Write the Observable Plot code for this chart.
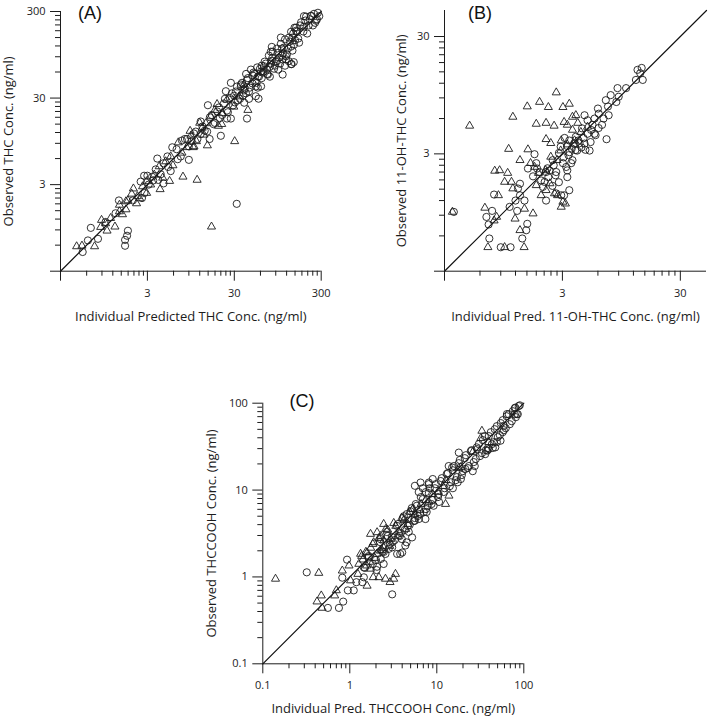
<!DOCTYPE html>
<html>
<head>
<meta charset="utf-8">
<script src="https://cdn.jsdelivr.net/npm/d3@7"></script>
<script src="https://cdn.jsdelivr.net/npm/@observablehq/plot@0.6"></script>
<style>
  html, body { margin: 0; padding: 0; background: #fff; }
  #wrap { position: relative; width: 709px; height: 719px; background: #fff; overflow: hidden; }
  .panel { position: absolute; }
  .panel svg { display: block; }
</style>
</head>
<body>
<div id="wrap">
  <div class="panel" id="pA" style="left:0px; top:0px;"></div>
  <div class="panel" id="pB" style="left:354px; top:0px;"></div>
  <div class="panel" id="pC" style="left:100px; top:360px;"></div>
</div>
<script>
// ---------------- Panel A: THC (x = individual predicted, y = observed, ng/ml) ----------------
const thcCircles = [
  [0.54,0.50],[0.62,0.68],[0.67,0.95],[0.81,0.71],[0.99,1.11],[1.29,1.40],[1.41,1.97],[1.66,0.69],
  [1.66,0.59],[1.79,0.88],[1.75,0.77],[2.04,1.97],[2.6,2.1],[2.75,3.8],[3.1,3.0],[3.4,3.7],[3.9,6.0],
  [4.6,3.1],[4.0,3.4],[5.8,8.1],[5.56,4.3],[9.0,5.8],[8.6,10.1],[12.3,11.5],[14.9,24.8],[15.6,10.1],
  [21,11],[27.4,17.4],[32,1.8],[24,36],[27.4,45],[42,17.4],[39,26.5],[35.7,43],[53,31.5],[57,29.5],
  [61,41],[72,57],[66,70],[108,56],[135,74],[145,78],[103,150],[135,175],[148,195],[190,265],[229,265],
  [262,235],[285,265],[176,225],[154,180],[118,91],[127,80],[137,74],[93,80],[108,84],[81,117],[79,103],
  [61,61],[54,45],[46.6,64],[41,57],
  [2.51,3.25],[2.78,2.4],[3.0,3.8],[3.5,3.35],[3.74,4.5],[4.27,3.95],[4.6,5.3],[5.2,4.8],[6.5,7.7],
  [7.26,6.35],[8.1,10.1],[9.0,8.3],[10.3,11.7],[11.3,10.1],[12.3,16.1],[13.7,12.6],[15.7,18],[17.3,15],
  [19.1,21],[20.4,17.6],[22.8,26],[24.7,21.5],[26.7,30],[29,24.7],[31.3,35.7],[33,28.2],[35.7,41],
  [37.7,32],[39.6,38.8],[43,51],[44.3,35.7],[48.5,44.3],[51,57],[53,40.8],[56,53],[59,65],[62,51],
  [65.5,60.7],[69,75],[73,56],[77,69],[82,87],[86,65.5],[90,79],[96,100],[101,75],[106,93],[112,115],
  [118,84],[124,112],[131,135],[140,106],[150,140],[158,176],[167,131],[190,201],[207,167],[222,244],
  [241,207],[268,244],[201,262],[248,282],
  [12.9,14.1],[14.6,12.3],[16.5,19.1],[17.9,15.5],[20,23.4],[21.8,19.1],[23.4,29.4],[25.3,20.6],
  [28.1,34],[30.5,26.7],[32.2,40.8],[34.9,29.4],[36.8,45],[40.8,34],[41.8,48.5],[45.4,39.6],[49.8,59],
  [52,46.6],[55,67.8],[57.8,53.2],[63.8,59],[67,79],[71,64],[75,93],[79,75],[83,103],[88,71],[93,112],
  [98,88],[103,127],[109,98],[115,143],[121,96],[128,150],[135,118],[143,167],[146,124],[154,195],
  [163,146],[171,207],[187,176],[197,236],[215,207],[229,268],[255,222],[275,290],[29.8,32],[38.8,36.8],
  [48.5,55],[62,71],[81,81],[106,112],[140,150],[24.7,17.4],[44.3,29.4],[56,39.6],[77,53],[96,64],
  [115,71],[7.5,9.7],[9.7,9.5],[10.8,12.3],[6.7,5.9],[5.1,6.35]
];
const thcTriangles = [
  [0.46,0.58],[0.53,0.59],[0.74,0.58],[0.89,1.17],[0.87,0.97],[1.03,0.88],[1.27,0.98],[1.43,1.75],
  [1.70,1.55],[1.79,1.97],[2.25,1.82],[2.07,2.7],[2.3,2.2],[2.94,2.4],[4.2,2.65],[5.4,3.3],[7.7,3.7],
  [11.2,3.4],[9.3,12.5],[10.1,8.1],[12.8,13.6],[14.7,8.5],[16.4,0.98],[19.7,14.3],[19,25.5],[30.3,9.5],
  [29.6,23.8],[43,21.8],
  [1.13,1.23],[1.55,1.36],[1.98,2.35],[2.45,2.08],[2.64,2.86],[3.27,3.0],[3.6,3.9],[4.5,3.6],[4.87,5.56],
  [5.9,5.0],[6.8,9.2],[8.5,8.1],[10.3,8.3],[12,15.5],[13.4,11.3],[16.1,18.4],[21.5,15],[24.7,28.7],
  [34,31.3],[38.8,43],
  [0.99,1.07],[1.43,1.47],[1.7,1.92],[2.93,3.27],[4.1,4.87],[5.56,6.35],[7.5,7.0],[9.5,11],[11,9.5],
  [14.1,15.3],[17.9,21.8],[21.8,20]
];

// ---------------- Panel B: 11-OH-THC ----------------
const ohCircles = [
  [0.36,0.96],[0.68,0.87],[0.71,0.75],[0.72,0.57],[0.76,0.98],[0.79,1.35],[0.90,0.48],[1.09,0.48],
  [1.07,1.06],[1.24,0.98],[1.2,1.2],[1.26,1.52],[1.31,1.33],[1.37,0.57],[1.48,0.67],[1.51,0.76],
  [1.43,1.2],[1.31,1.67],[1.53,2.25],[1.69,1.93],[1.74,2.98],[1.80,2.5],[1.83,2.25],[1.92,2.1],
  [1.98,1.78],[2.05,1.57],[2.12,1.73],[2.18,1.2],[2.18,2.1],[2.33,2.17],[2.48,2.65],[2.66,2.1],
  [2.66,1.38],[2.93,1.33],[2.8,3.05],[3.1,1.33],[3.13,4.1],[3.03,2.5],[3.23,2.32],[3.56,2.5],[3.45,3.1],
  [3.8,3.67],[3.9,4.2],[4.35,3.4],[4.62,3.67],[4.9,4.45],[4.62,6.4],[4.9,5.8],[5.25,4.8],[5.1,3.2],
  [5.62,4.45],[6.0,7.3],[6.5,5.3],[6.7,6.0],[7.1,4.0],[7.4,6.4],[7.7,9.5],[8.6,8.3],[9.0,9.2],
  [10.4,10.9],[12.6,12.8],[13.0,15.6],[14.1,16.2],[14.4,12.8],[13.7,14.6],[8.8,10.9],[7.0,8.6],
  [7.3,7.6],[6.1,6.6],[5.4,5.3],[4.1,3.9],[3.43,3.9],[3.3,3.5],[3.6,3.33],[4.0,3.2],[2.9,3.45],
  [3.07,2.8],[2.62,1.97],[2.28,1.9],[2.47,1.6],[3.3,1.9],[3.43,1.47],[4.7,3.25],[4.4,4.95],[5.62,6.0],
  [3.87,3.23],[4.19,3.7],[4.53,4.08],[3.38,2.92],[3.65,2.65],[5.2,3.78],[5.73,4.33],[6.08,4.98],
  [2.53,2.4],[2.24,2.26],[2.8,1.72],[3.3,2.17]
];
const ohTriangles = [
  [0.35,0.96],[0.49,5.2],[1.14,6.2],[1.05,3.3],[0.66,1.04],[0.70,0.48],[0.79,0.81],[0.83,0.87],
  [0.80,2.15],[0.88,2.17],[0.86,1.33],[0.97,1.73],[1.03,2.06],[1.11,1.73],[1.14,1.52],[0.97,0.48],
  [1.19,0.84],[1.31,0.67],[1.42,0.48],[1.43,1.02],[1.51,7.6],[1.53,3.27],[1.69,0.93],[1.31,2.65],
  [1.92,8.3],[1.80,5.4],[2.18,5.5],[2.28,7.5],[2.66,10],[2.55,5.2],[2.18,4.0],[2.39,3.7],[2.93,3.9],
  [3.03,7.5],[3.43,8.0],[3.3,5.3],[3.65,6.2],[3.9,6.4],[3.1,5.6],[4.05,5.5],[2.57,1.38],[2.73,1.33],
  [3.03,1.17],[3.18,1.13],[2.93,1.06],[2.18,1.47],[1.98,1.33],[1.80,1.62],[1.74,2.32],[1.61,2.5],
  [2.39,2.83],[3.65,4.8],[4.9,5.1],[2.9,3.2],[3.3,3.6],[3.8,3.9],[4.3,4.6],[2.7,2.65],[2.16,2.17],
  [1.88,2.06],[2.35,1.68]
];

// ---------------- Panel C: THCCOOH ----------------
const coohCircles = [
  [0.32,1.13],[0.56,0.44],[0.75,0.44],[0.84,0.52],[0.95,0.70],[1.11,0.70],[0.82,0.98],[0.93,1.58],
  [1.19,0.87],[1.45,0.99],[1.45,1.29],[2.03,1.20],[1.39,0.87],[2.06,1.31],[1.65,1.68],[2.45,1.41],
  [2.57,1.84],[3.5,1.84],[3.07,2.19],[3.8,1.84],[4.35,2.3],[3.07,0.63],[2.25,2.73],[4.0,1.91],[5.2,2.85],
  [4.5,2.5],[5.6,4.44],[7.4,4.64],[5.6,11.2],[6.5,12.2],[8.1,12.2],[9.2,6.6],[17.9,27],[15,18.2],
  [21.2,17.5],[29.2,29.6],[38,28.4],[47,31],[54,37],[59,55],[64,75],[80,89],[83,75],
  [2.39,1.97],[2.73,2.96],[3.12,2.52],[3.48,3.87],[3.86,3.2],[4.18,5.0],[4.64,3.87],[5.0,5.7],[5.45,4.4],
  [5.9,6.6],[6.4,5.3],[6.9,7.87],[7.5,6.04],[8.1,9.2],[8.7,6.9],[9.5,10.5],[10.3,8.3],[11.1,12.7],
  [12.0,9.5],[13.0,15.3],[14.1,11.1],[15.3,16.9],[16.5,13.0],[17.9,20.4],[19.4,14.9],[21.0,23.3],
  [22.7,17.9],[24.6,28.1],[26.6,21.0],[28.8,31],[31.3,24.6],[33.8,37.6],[36.6,28.8],[39.6,41.8],
  [43,33.8],[46.4,50.2],[50.2,40.7],[54.4,59],[59,48.9],[63.6,70.8],[69,57.3],[74.7,81],[81,69],
  [87.4,92.5],[78.7,74.7],
  [1.84,1.41],[2.27,1.61],[2.8,2.1],[3.96,2.73],[4.76,3.3],[6.2,4.64],[7.65,5.6],[8.98,13.4],[10.6,7.3],
  [13.7,18.9],[17.4,12.3],[27.3,18.9],[36,25.9],[44,30.5],[57.3,46.4],
  [1.49,1.27],[1.65,1.74],[2.0,1.57],[2.22,2.52],[2.46,1.94],[2.66,3.29],[2.88,2.39],[3.04,2.88],
  [3.29,2.66],[3.56,4.06],[3.76,2.96],[4.06,4.76],[4.29,3.48],[4.52,5.29],[4.88,3.96],[5.15,6.2],
  [5.58,4.76],[5.73,6.9],[6.04,5.02],[6.55,8.3],[7.1,5.58],[7.47,9.48],[7.87,6.55],[8.3,10.5],
  [8.98,7.67],[9.74,11.7],[10.5,8.98],[11.4,13.7],[12.3,10.5],[13.4,15.7],[14.5,12.3],[15.7,18.9],
  [17.0,14.1],[18.4,22.2],[19.9,16.5],[21.6,25.2],[23.4,18.9],[25.2,28.8],[28.1,22.8],[30.4,33.8],
  [33,26.6],[35.6,41.8],[38.6,30.4],[41.8,46.4],[45.2,35.6],[49,54.4],[53,42.9],[57.3,63.8],[62,51.6],
  [67.2,74.7],[72.7,62],[78.7,87.5],[85.3,74.7],[89.9,94.5],[6.9,10.5],[6.2,9.48],[8.1,11.7],
  [15.3,10.5],[18.9,13.4],[25.9,16.5],[39.6,29.6],[49,35.6]
];
const coohTriangles = [
  [0.14,0.95],[0.44,1.11],[0.42,0.52],[0.47,0.61],[0.48,0.44],[0.67,0.61],[0.70,0.70],[0.82,1.18],
  [0.98,1.35],[1.02,0.91],[1.24,1.08],[1.33,1.84],[1.58,1.91],[1.58,0.79],[1.73,1.24],[1.86,0.99],
  [2.16,0.99],[2.57,0.95],[2.9,0.87],[3.35,1.08],[3.2,0.95],[2.25,2.0],[2.45,2.62],[2.06,3.26],
  [1.73,3.12],[2.45,4.06],[1.88,2.5],[12.6,6.9],[13.8,8.6],[33,48],
  [1.41,1.58],[1.56,1.35],[1.74,2.16],[1.94,1.65],[2.16,2.8],[2.33,2.04],[2.59,3.56],[2.88,2.27],
  [3.2,4.17],[3.56,2.96],[3.96,4.76],[4.4,3.56],[4.88,5.6],[5.6,5.3],[6.6,6.9],[8.1,7.3],[10.3,9.5],
  [12.7,13.0],[18.9,18.3],[39.6,35.6],
  [1.27,1.41],[1.37,1.74],[1.53,1.94],[1.69,1.49],[1.84,2.39],[2.05,1.84],[2.27,2.96],[2.46,2.16],
  [2.73,3.48],[2.96,2.73],[3.38,3.86],[3.66,3.29],[4.18,4.52],[4.64,4.06],[5.29,6.04],[6.4,5.89],
  [7.47,7.67],[8.98,8.98],[11.7,11.1],[17.9,17.9],[25.9,27.4],[32.1,39.6]
];

// ---------------- Axes: domains, ticks and tick labels ----------------
const domainA = [0.3, 300];
const domainB = [0.3, 50];
const domainC = [0.1, 100];
const majorTicksA = [0.3, 3, 30, 300];
const majorTicksB = [0.3, 3, 30];
const majorTicksC = [0.1, 1, 10, 100];
const labeledTicksA = [3, 30, 300];
const tickLabelsA = ["3", "30", "300"];
const labeledTicksB = [3, 30];
const tickLabelsB = ["3", "30"];
const labeledTicksC = [0.1, 1, 10, 100];
const tickLabelsC = ["0.1", "1", "10", "100"];
const minorMultipliers = [2, 3, 4, 5, 6, 7, 8, 9];

const INK = "#1c1c1c";
const SANS = "'Open Sans', 'Noto Sans', sans-serif";

function panel(o) {
  const minor = o.major.flatMap(b => minorMultipliers.map(m => b * m))
    .filter(v => v < o.domain[1] * 0.999);
  const labeled = o.labeled.map((v, i) => ({v, t: o.labels[i]}));
  const noText = () => "";
  const axisCommon = {label: null, stroke: INK, tickFormat: noText};
  return Plot.plot({
    width: o.width, height: o.height,
    marginLeft: o.ml, marginRight: o.mr, marginTop: o.mt, marginBottom: o.mb,
    x: {type: "log", domain: o.domain},
    y: {type: "log", domain: o.domain},
    style: {fontFamily: SANS, fontSize: "11px", color: INK, background: "#fff"},
    marks: [
      Plot.axisX(minor, {...axisCommon, tickSize: 5}),
      Plot.axisX(o.major, {...axisCommon, tickSize: 10}),
      Plot.axisY(minor, {...axisCommon, tickSize: 5}),
      Plot.axisY(o.major, {...axisCommon, tickSize: 10}),
      Plot.text(labeled, {x: d => d.v, text: d => d.t, frameAnchor: "bottom", dy: 22, fontSize: 11,
        textAnchor: "middle", lineAnchor: "middle", fill: INK}),
      Plot.text(labeled, {y: d => d.v, text: d => d.t, frameAnchor: "left", dx: -15, fontSize: 11,
        textAnchor: "end", lineAnchor: "middle", fill: INK}),
      Plot.ruleX([o.domain[0]], {stroke: INK, strokeWidth: 1}),
      Plot.ruleY([o.domain[0]], {stroke: INK, strokeWidth: 1}),
      Plot.line(o.domain, {x: d => d, y: d => d, stroke: "#111", strokeWidth: 1.2}),
      Plot.dot(o.circles, {x: d => d[0], y: d => d[1], r: 3.6, stroke: INK, strokeWidth: 0.9, fill: "none"}),
      Plot.dot(o.triangles, {x: d => d[0], y: d => d[1], r: 3.0, symbol: "triangle", stroke: INK, strokeWidth: 0.9, fill: "none"}),
      Plot.text([o.xLabel], {frameAnchor: "bottom", dy: o.xDy, text: d => d, fontSize: 13, textAnchor: "middle", lineAnchor: "middle", fill: INK}),
      Plot.text([o.yLabel], {frameAnchor: "left", dx: o.yDx, rotate: -90, text: d => d, fontSize: 13, textAnchor: "middle", lineAnchor: "middle", fill: INK}),
      Plot.text([o.tag], {frameAnchor: "top-left", dx: o.tagDx, dy: o.tagDy, text: d => d, fontSize: 18,
        fontFamily: "'Liberation Sans', Arial, sans-serif", textAnchor: "middle", lineAnchor: "middle", fill: "#111"})
    ]
  });
}

document.getElementById("pA").appendChild(panel({
  circles: thcCircles, triangles: thcTriangles, domain: domainA, major: majorTicksA,
  labeled: labeledTicksA, labels: tickLabelsA,
  width: 354, height: 330, ml: 60, mr: 33.3, mt: 11, mb: 59.3,
  xLabel: "Individual Predicted THC Conc. (ng/ml)", yLabel: "Observed THC Conc. (ng/ml)",
  xDy: 46, yDx: -52, tag: "(A)", tagDx: 29.5, tagDy: 1.5
}));
document.getElementById("pB").appendChild(panel({
  circles: ohCircles, triangles: ohTriangles, domain: domainB, major: majorTicksB,
  labeled: labeledTicksB, labels: tickLabelsB,
  width: 355, height: 330, ml: 90, mr: 3, mt: 10, mb: 59.3,
  xLabel: "Individual Pred. 11-OH-THC Conc. (ng/ml)", yLabel: "Observed 11-OH-THC Conc. (ng/ml)",
  xDy: 46, yDx: -43, tag: "(B)", tagDx: 35.5, tagDy: 2.5
}));
document.getElementById("pC").appendChild(panel({
  circles: coohCircles, triangles: coohTriangles, domain: domainC, major: majorTicksC,
  labeled: labeledTicksC, labels: tickLabelsC,
  width: 450, height: 359, ml: 162.3, mr: 26.7, mt: 42.7, mb: 55.7,
  xLabel: "Individual Pred. THCCOOH Conc. (ng/ml)", yLabel: "Observed THCCOOH Conc. (ng/ml)",
  xDy: 45, yDx: -51.3, tag: "(C)", tagDx: 39.2, tagDy: -1.7
}));
</script>
</body>
</html>
